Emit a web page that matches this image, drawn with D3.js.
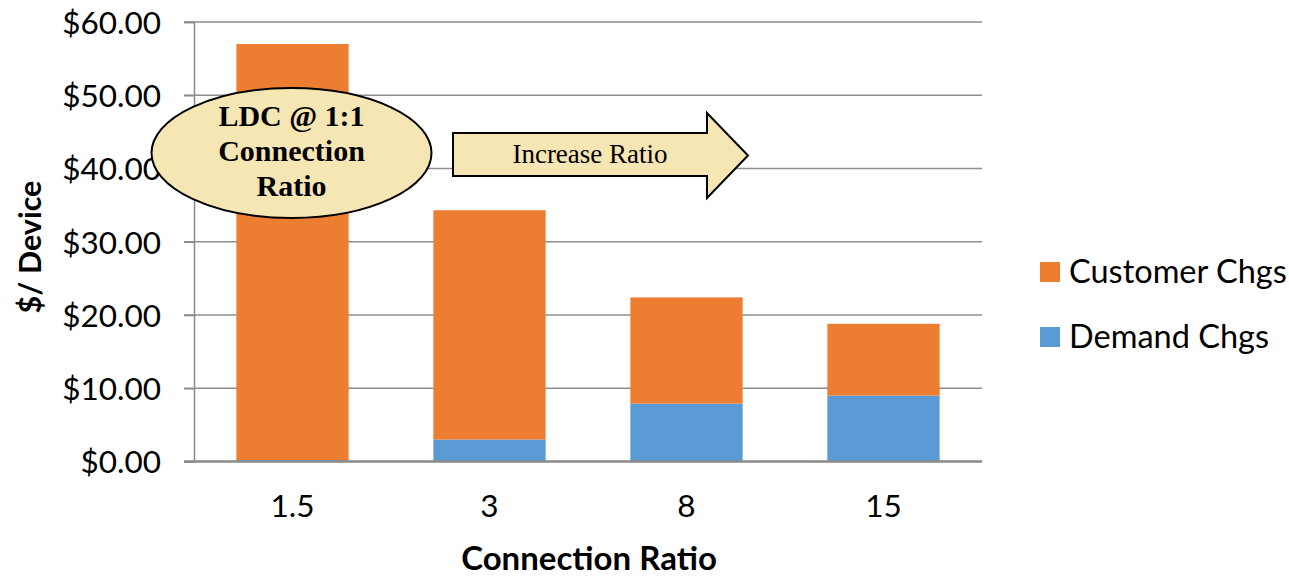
<!DOCTYPE html>
<html>
<head>
<meta charset="utf-8">
<script src="https://cdn.jsdelivr.net/npm/d3@7"></script>
<style>
  html, body { margin: 0; padding: 0; background: #fff; }
  svg { display: block; }
</style>
</head>
<body>
<svg id="chart" width="1289" height="577"></svg>
<script>
// Cost per device by connection ratio, stacked by charge type
const categories = ["1.5", "3", "8", "15"];
const demandChgs = [0.2, 3.0, 7.9, 9.0];
const customerChgs = [56.8, 31.3, 14.5, 9.8];
const seriesNames = ["Demand Chgs", "Customer Chgs"];
const seriesColors = ["#5B9BD5", "#ED7D31"];
const yTicks = [0, 10, 20, 30, 40, 50, 60];

const svg = d3.select("#chart");
const font = "Lato, 'Open Sans', sans-serif";

const margin = { left: 194, right: 307, top: 22, bottom: 115.5 };
const W = 1289, H = 577;
const plotW = W - margin.left - margin.right;
const plotH = H - margin.top - margin.bottom;

const x = d3.scaleBand().domain(categories).range([margin.left, margin.left + plotW])
  .paddingInner(0.43).paddingOuter(0.215);
const y = d3.scaleLinear().domain([0, 60]).range([margin.top + plotH, margin.top]);

// Gridlines
svg.append("g")
  .selectAll("line")
  .data(yTicks.filter(d => d > 0))
  .join("line")
  .attr("x1", margin.left - 10)
  .attr("x2", margin.left + plotW)
  .attr("y1", d => y(d))
  .attr("y2", d => y(d))
  .attr("stroke", "#8E8E8E")
  .attr("stroke-width", 1.5);

// Y axis
const yAxis = svg.append("g")
  .attr("transform", `translate(${margin.left},0)`)
  .call(d3.axisLeft(y).tickValues(yTicks).tickSize(10).tickPadding(23)
    .tickFormat(d => "$" + d3.format(".2f")(d)));
yAxis.select(".domain").attr("stroke", "#8A8A8A").attr("stroke-width", 1.5);
yAxis.selectAll(".tick line").attr("stroke", "#8A8A8A").attr("stroke-width", 1.5);
yAxis.selectAll(".tick text")
  .attr("font-family", font).attr("font-size", 31.5).attr("fill", "#000")
  .attr("dy", "0.36em");

// Stacked bars
const rows = categories.map((c, i) => ({ cat: c, "Demand Chgs": demandChgs[i], "Customer Chgs": customerChgs[i] }));
const stack = d3.stack().keys(seriesNames)(rows);

svg.append("g")
  .selectAll("g")
  .data(stack)
  .join("g")
  .attr("fill", (d, i) => seriesColors[i])
  .selectAll("rect")
  .data(d => d)
  .join("rect")
  .attr("x", d => x(d.data.cat))
  .attr("width", x.bandwidth())
  .attr("y", d => y(d[1]))
  .attr("height", d => y(d[0]) - y(d[1]));

// X axis
const xAxis = svg.append("g")
  .attr("transform", `translate(0,${margin.top + plotH})`)
  .call(d3.axisBottom(x).tickSize(0).tickPadding(33));
xAxis.select(".domain").attr("stroke", "#8A8A8A").attr("stroke-width", 2.5)
  .attr("d", `M${margin.left - 10},0H${margin.left + plotW}`);
xAxis.selectAll(".tick text")
  .attr("font-family", font).attr("font-size", 31.5).attr("fill", "#000");

// Axis titles
svg.append("text")
  .attr("x", 589).attr("y", 570)
  .attr("text-anchor", "middle")
  .attr("font-family", font).attr("font-weight", "bold").attr("font-size", 33)
  .text("Connection Ratio");

svg.append("text")
  .attr("transform", "translate(41,247) rotate(-90)")
  .attr("text-anchor", "middle")
  .attr("font-family", font).attr("font-weight", "bold").attr("font-size", 30.5)
  .text("$/ Device");

// Legend
const legendOrder = [1, 0];
const legend = svg.append("g");
legendOrder.forEach((s, i) => {
  const ly = 262 + i * 65;
  legend.append("rect")
    .attr("x", 1040).attr("y", ly).attr("width", 20).attr("height", 20)
    .attr("fill", seriesColors[s]);
  legend.append("text")
    .attr("x", 1069).attr("y", ly + 21)
    .attr("font-family", font).attr("font-size", 32.5).attr("fill", "#000")
    .text(seriesNames[s]);
});

// Callout: ellipse
const serif = "'Liberation Serif', 'DejaVu Serif', serif";
svg.append("ellipse")
  .attr("cx", 291.5).attr("cy", 153).attr("rx", 140).attr("ry", 65)
  .attr("fill", "#F5E6B3").attr("stroke", "#000").attr("stroke-width", 2);
["LDC @ 1:1", "Connection", "Ratio"].forEach((t, i) => {
  svg.append("text")
    .attr("x", 291.5).attr("y", 126 + i * 35)
    .attr("text-anchor", "middle")
    .attr("font-family", serif).attr("font-weight", "bold").attr("font-size", 30)
    .attr("fill", "#000")
    .text(t);
});

// Callout: arrow
const arrowPath = "M453,133 L707,133 L707,113 L748,155.5 L707,198 L707,176 L453,176 Z";
svg.append("path")
  .attr("d", arrowPath)
  .attr("fill", "#F5E6B3").attr("stroke", "#000").attr("stroke-width", 2)
  .attr("stroke-linejoin", "miter");
svg.append("text")
  .attr("x", 590).attr("y", 163)
  .attr("text-anchor", "middle")
  .attr("font-family", serif).attr("font-size", 27).attr("fill", "#000")
  .text("Increase Ratio");
</script>
</body>
</html>
